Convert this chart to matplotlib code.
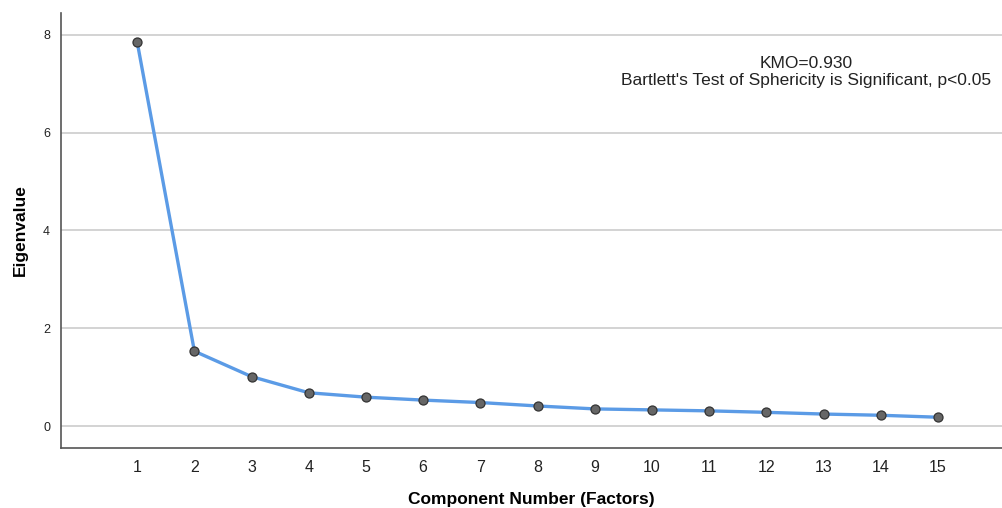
import matplotlib.pyplot as plt

plt.rcParams['font.family'] = ['Liberation Sans', 'DejaVu Sans']

components = list(range(1, 16))
eigenvalues = [7.85, 1.53, 1.01, 0.68, 0.59, 0.53, 0.48, 0.41, 0.35, 0.33,
               0.31, 0.28, 0.245, 0.22, 0.18]
y_ticks = [0, 2, 4, 6, 8]
kmo_note = "KMO=0.930"
bartlett_note = "Bartlett's Test of Sphericity is Significant, p<0.05"

fig = plt.figure(figsize=(10.02, 5.08), dpi=100)
ax = fig.add_axes([0.061, 0.119, 0.939, 0.855])

ax.plot(components, eigenvalues, color='#5B9BE6', lw=2.4, zorder=3,
        marker='o', markersize=6.5, markerfacecolor='#666666',
        markeredgecolor='#333333', markeredgewidth=0.9)

ax.set_xlim(-0.33, 16.12)
ax.set_ylim(-0.44, 8.44)
ax.set_xticks(components)
ax.set_yticks(y_ticks)
ax.tick_params(axis='x', length=0, labelsize=11.5, pad=9, colors='#222222')
ax.tick_params(axis='y', length=0, labelsize=9, pad=8, colors='#222222')

ax.grid(axis='y', color='#c8c8c8', lw=1.1)
ax.set_axisbelow(True)
for side in ['top', 'right']:
    ax.spines[side].set_visible(False)
for side in ['left', 'bottom']:
    ax.spines[side].set_color('#555555')
    ax.spines[side].set_linewidth(1.2)

ax.set_xlabel('Component Number (Factors)', fontsize=12.5, fontweight='bold', labelpad=12)
ax.set_ylabel('Eigenvalue', fontsize=12.5, fontweight='bold', labelpad=11)

# two-line note, placed line by line
ax.text(0.792, 0.885, kmo_note, transform=ax.transAxes, ha='center', va='center',
        fontsize=12.5, color='#222222')
ax.text(0.792, 0.846, bartlett_note, transform=ax.transAxes, ha='center', va='center',
        fontsize=12.5, color='#222222')

fig.savefig('out.png', dpi=100)
